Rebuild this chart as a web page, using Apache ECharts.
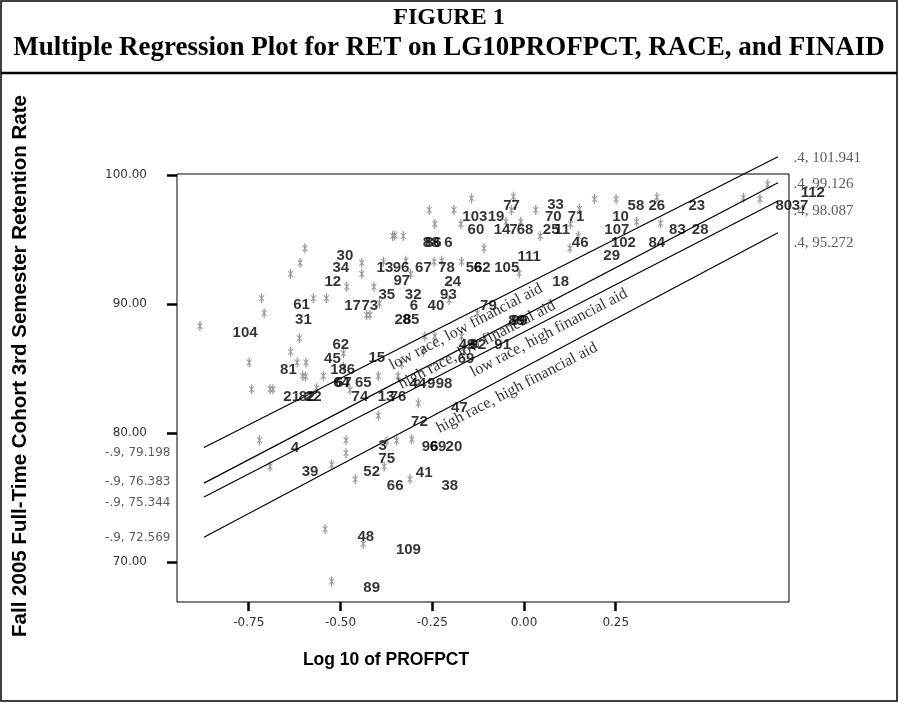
<!DOCTYPE html>
<html>
<head>
<meta charset="utf-8">
<script src="https://cdn.jsdelivr.net/npm/echarts@6/dist/echarts.min.js"></script>
<style>
  html, body { margin: 0; padding: 0; background: #fff; }
  #chart { width: 899px; height: 703px; }
</style>
</head>
<body>
<div id="chart"></div>
<script>
// gray case markers: [LG10PROFPCT, RET]
const markers = [
  [-0.358, 95.27], [-0.352, 95.30], [-0.597, 94.32], [-0.610, 93.20], [-0.636, 92.33], [-0.442, 93.20],
  [-0.442, 92.33], [-0.483, 91.34], [-0.383, 93.28], [-0.409, 91.34], [-0.715, 90.44], [-0.574, 90.44],
  [-0.538, 90.44], [-0.143, 98.19], [-0.258, 97.29], [-0.191, 97.29], [-0.243, 96.20], [-0.172, 96.20],
  [-0.029, 98.32], [-0.034, 97.29], [-0.049, 96.38], [-0.009, 96.38], [0.032, 97.29], [0.151, 97.36],
  [0.127, 96.20], [0.192, 98.14], [0.251, 98.14], [0.044, 95.27], [-0.329, 95.27], [-0.109, 94.32],
  [0.125, 94.32], [0.148, 95.27], [-0.322, 93.36], [-0.245, 93.28], [-0.224, 93.36], [-0.170, 93.28],
  [-0.309, 92.33], [-0.013, 92.38], [0.362, 98.27], [0.307, 96.38], [0.372, 96.26], [0.598, 98.24],
  [0.643, 98.14], [0.664, 99.28], [-0.708, 89.28], [-0.883, 88.29], [-0.612, 87.34], [-0.636, 86.30],
  [-0.618, 85.45], [-0.594, 85.45], [-0.749, 85.45], [-0.603, 84.42], [-0.595, 84.38], [-0.547, 84.42],
  [-0.742, 83.39], [-0.692, 83.39], [-0.684, 83.39], [-0.492, 86.18], [-0.492, 85.14], [-0.397, 84.42],
  [-0.343, 84.42], [-0.397, 81.32], [-0.565, 83.47], [-0.474, 83.33], [-0.721, 79.43], [-0.485, 79.42],
  [-0.485, 78.43], [-0.374, 79.33], [-0.347, 79.40], [-0.429, 89.15], [-0.420, 89.15], [-0.394, 90.05],
  [-0.204, 90.31], [-0.127, 89.28], [-0.243, 87.47], [-0.270, 87.47], [-0.274, 86.30], [-0.170, 87.47],
  [-0.165, 86.57], [-0.333, 85.35], [-0.288, 82.30], [-0.306, 79.51], [-0.692, 77.39], [-0.524, 77.52],
  [-0.460, 76.41], [-0.381, 77.39], [-0.311, 76.41], [-0.542, 72.53], [-0.438, 71.40], [-0.524, 68.47]
];

// case number labels as printed: [LG10PROFPCT, RET, case]
const caseLabels = [
  [-0.488, 93.72, '30'], [-0.499, 92.77, '34'], [-0.521, 91.73, '12'], [-0.379, 92.77, '13'],
  [-0.335, 92.77, '96'], [-0.274, 92.77, '67'], [-0.211, 92.77, '78'], [-0.136, 92.77, '56'],
  [-0.114, 92.77, '62'], [-0.047, 92.77, '105'], [-0.333, 91.81, '97'], [-0.194, 91.73, '24'],
  [-0.374, 90.70, '35'], [-0.302, 90.70, '32'], [-0.206, 90.70, '93'], [0.100, 91.73, '18'],
  [0.014, 93.67, '111'], [-0.134, 96.72, '103'], [-0.076, 96.72, '19'], [-0.034, 97.62, '77'],
  [0.086, 97.67, '33'], [0.080, 96.72, '70'], [0.142, 96.72, '71'], [-0.131, 95.74, '60'],
  [-0.060, 95.74, '14'], [-0.029, 95.74, '7'], [0.003, 95.74, '68'], [0.074, 95.74, '25'],
  [0.104, 95.74, '11'], [-0.253, 94.71, '88'], [-0.247, 94.71, '86'], [-0.206, 94.71, '6'],
  [0.153, 94.71, '46'], [0.305, 97.60, '58'], [0.362, 97.60, '26'], [0.471, 97.60, '23'],
  [0.263, 96.72, '10'], [0.253, 95.74, '107'], [0.271, 94.71, '102'], [0.239, 93.72, '29'],
  [0.362, 94.71, '84'], [0.418, 95.74, '83'], [0.480, 95.74, '28'], [0.787, 98.63, '112'],
  [0.708, 97.60, '80'], [0.752, 97.60, '37'], [-0.606, 89.92, '61'], [-0.601, 88.76, '31'],
  [-0.760, 87.78, '104'], [-0.467, 89.84, '17'], [-0.420, 89.84, '73'], [-0.499, 86.82, '62'],
  [-0.522, 85.71, '45'], [-0.494, 84.88, '186'], [-0.401, 85.79, '15'], [-0.642, 84.88, '81'],
  [-0.497, 83.85, '64'], [-0.492, 83.85, '67'], [-0.438, 83.85, '65'], [-0.633, 82.81, '21'],
  [-0.591, 82.81, '82'], [-0.574, 82.81, '22'], [-0.447, 82.81, '74'], [-0.376, 82.81, '13'],
  [-0.343, 82.81, '76'], [-0.624, 78.81, '4'], [-0.385, 78.99, '3'], [-0.374, 77.98, '75'],
  [-0.583, 76.95, '39'], [-0.415, 76.95, '52'], [-0.351, 75.89, '66'], [-0.272, 76.88, '41'],
  [-0.202, 75.89, '38'], [-0.431, 71.96, '48'], [-0.315, 70.93, '109'], [-0.415, 67.96, '89'],
  [-0.256, 78.89, '96'], [-0.234, 78.89, '69'], [-0.191, 78.89, '20'], [-0.285, 80.88, '72'],
  [-0.176, 81.91, '47'], [-0.289, 83.80, '44'], [-0.253, 83.80, '9'], [-0.218, 83.80, '98'],
  [-0.158, 85.71, '69'], [-0.155, 86.82, '49'], [-0.125, 86.82, '92'], [-0.058, 86.82, '91'],
  [-0.020, 88.71, '89'], [-0.013, 88.71, '99'], [-0.097, 89.84, '79'], [-0.300, 89.84, '6'],
  [-0.240, 89.84, '40'], [-0.330, 88.76, '28'], [-0.308, 88.76, '85']
];

// fitted lines, drawn as on the figure
const lineX = [-0.872, 0.692];
const lowRaceLowAid = [78.86, 101.42];
const highRaceLowAid = [76.10, 99.40];
const lowRaceHighAid = [75.02, 97.98];
const highRaceHighAid = [71.91, 95.53];
const lineNames = ['low race, low financial aid', 'high race, low financial aid',
  'low race, high financial aid', 'high race, high financial aid'];
const lineNamePos = [[-0.158, 88.22], [-0.128, 86.82], [0.068, 87.75], [-0.019, 83.49]];
const startLabels = ['-.9, 79.198', '-.9, 76.383', '-.9, 75.344', '-.9, 72.569'];
const endLabels = ['.4, 101.941', '.4, 99.126', '.4, 98.087', '.4, 95.272'];

const yTicks = [70, 80, 90, 100];
const xTicks = [-0.75, -0.5, -0.25, 0, 0.25];

const chart = echarts.init(document.getElementById('chart'));

const lineYs = [lowRaceLowAid, highRaceLowAid, lowRaceHighAid, highRaceHighAid];
const startOffsets = [[0, 5], [0, -1], [0, 6], [0, 1]];
const endOffsets = [[0, 1], [0, 1], [0, 10], [0, 10]];

const starPath = 'path://M2.4,0L3.6,0L3.6,10L2.4,10Z M0,2L1.2,2L6,8L4.8,8Z M4.8,2L6,2L1.2,8L0,8Z';

const series = [];

lineYs.forEach((ys, i) => {
  series.push({
    type: 'line',
    name: lineNames[i],
    clip: false,
    silent: true,
    symbol: 'none',
    lineStyle: { color: '#000', width: 1.2 },
    data: [[lineX[0], ys[0]], [lineX[1], ys[1]]],
    z: 3
  });
  // end-point annotations
  series.push({
    type: 'scatter',
    clip: false,
    silent: true,
    symbolSize: 1,
    itemStyle: { color: 'rgba(0,0,0,0)' },
    data: [
      {
        value: [lineX[0], ys[0]],
        label: {
          show: true, position: 'left', distance: 33, offset: startOffsets[i],
          formatter: startLabels[i], color: '#333',
          fontFamily: 'DejaVu Sans', fontSize: 12
        }
      },
      {
        value: [lineX[1], ys[1]],
        label: {
          show: true, position: 'right', distance: 15, offset: endOffsets[i],
          formatter: endLabels[i], color: '#333',
          fontFamily: 'Liberation Serif', fontSize: 15
        }
      }
    ]
  });
});

// rotated line names
series.push({
  type: 'scatter',
  clip: false,
  silent: true,
  symbolSize: 1,
  itemStyle: { color: 'rgba(0,0,0,0)' },
  data: lineNamePos.map((p, i) => ({ value: p, name: lineNames[i] })),
  label: {
    show: true, position: 'inside', rotate: 27.5,
    formatter: p => p.name,
    color: '#000', fontFamily: 'Liberation Serif', fontSize: 16
  },
  z: 4
});

series.push({
  type: 'scatter',
  silent: true,
  symbol: starPath,
  symbolSize: [6, 10],
  itemStyle: { color: '#7c7c7c' },
  data: markers,
  z: 2
});

series.push({
  type: 'scatter',
  clip: false,
  silent: true,
  symbolSize: 1,
  itemStyle: { color: 'rgba(0,0,0,0)' },
  data: caseLabels,
  label: {
    show: true, position: 'inside',
    formatter: p => p.value[2],
    color: '#000', fontFamily: 'Liberation Sans', fontWeight: 'bold', fontSize: 15
  },
  z: 5
});

chart.setOption({
  animation: false,
  backgroundColor: '#fff',
  grid: {
    left: 177, right: 110, top: 174, bottom: 101,
    show: true, borderColor: '#000', borderWidth: 1
  },
  xAxis: {
    type: 'value', min: -0.9455, max: 0.7221,
    axisLine: { show: false, onZero: false },
    splitLine: { show: false },
    axisTick: {
      customValues: xTicks, length: 9,
      lineStyle: { color: '#000', width: 2.5 }
    },
    axisLabel: {
      customValues: xTicks, margin: 15,
      formatter: v => v.toFixed(2),
      color: '#333', fontFamily: 'DejaVu Sans', fontSize: 12
    }
  },
  yAxis: {
    type: 'value', min: 66.88, max: 100.08,
    axisLine: { show: false, onZero: false },
    splitLine: { show: false },
    axisTick: {
      customValues: yTicks, length: 10,
      lineStyle: { color: '#000', width: 2.5 }
    },
    axisLabel: {
      customValues: yTicks, margin: 30,
      formatter: v => v.toFixed(2),
      color: '#333', fontFamily: 'DejaVu Sans', fontSize: 12
    }
  },
  graphic: [
    { type: 'rect', shape: { x: 1, y: 1, width: 896, height: 700 },
      style: { fill: 'none', stroke: '#000', lineWidth: 1.5 } },
    { type: 'line', shape: { x1: 1, y1: 73, x2: 897, y2: 73 },
      style: { stroke: '#000', lineWidth: 2.5 } },
    { type: 'text', x: 449, y: 18,
      style: { text: 'FIGURE 1', font: 'bold 24px "Liberation Serif"', fill: '#000',
        align: 'center', verticalAlign: 'middle' } },
    { type: 'text', x: 449, y: 48,
      style: { text: 'Multiple Regression Plot for RET on LG10PROFPCT, RACE, and FINAID',
        font: 'bold 27px "Liberation Serif"', fill: '#000',
        align: 'center', verticalAlign: 'middle' } },
    { type: 'text', x: 20, y: 366, rotation: Math.PI / 2,
      style: { text: 'Fall 2005 Full-Time Cohort 3rd Semester Retention Rate',
        font: 'bold 20.5px "Liberation Sans"', fill: '#000',
        align: 'center', verticalAlign: 'middle' } },
    { type: 'text', x: 386, y: 660,
      style: { text: 'Log 10 of PROFPCT', font: 'bold 17.5px "Liberation Sans"', fill: '#000',
        align: 'center', verticalAlign: 'middle' } }
  ],
  series
});
</script>
</body>
</html>
